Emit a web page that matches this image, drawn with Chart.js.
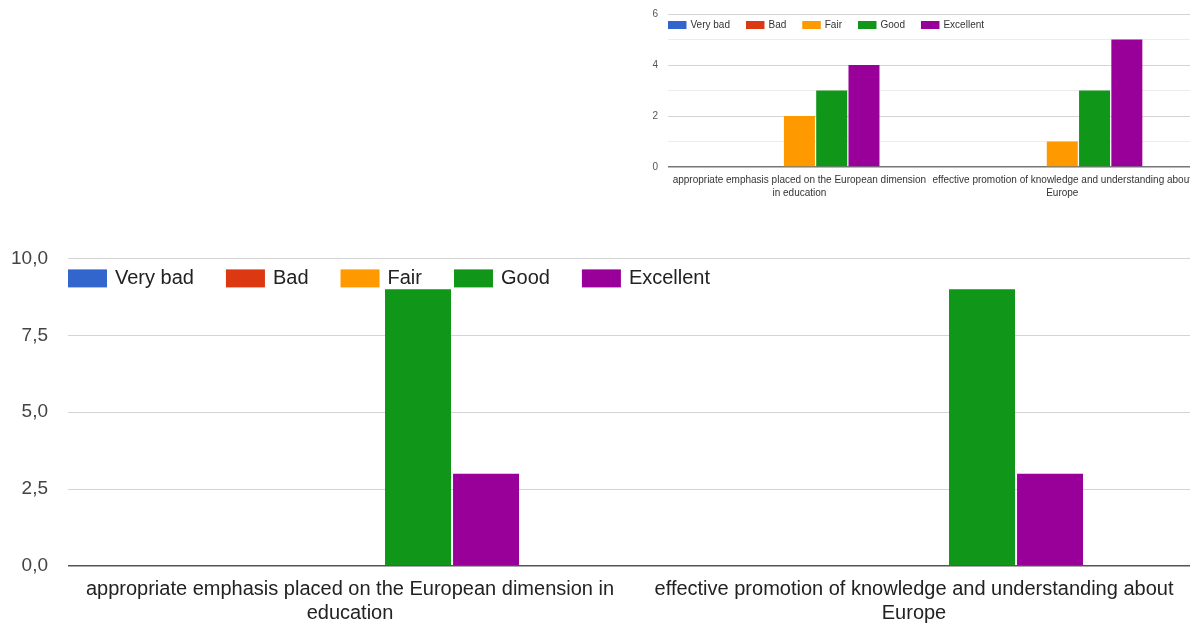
<!DOCTYPE html>
<html>
<head>
<meta charset="utf-8">
<title>European dimension ratings</title>
<script src="https://cdn.jsdelivr.net/npm/chart.js@4/dist/chart.umd.min.js"></script>
<style>
  html, body { margin: 0; padding: 0; background: #ffffff; overflow: hidden; width: 1190px; height: 625px; }
  #wrap { position: relative; width: 1190px; height: 625px; overflow: hidden; }
  #small { position: absolute; left: 640px; top: -2px; filter: blur(0.45px); }
  #main { position: absolute; left: 0px; top: 227px; }
</style>
</head>
<body>
<div id="wrap">
  <canvas id="small" width="560" height="212"></canvas>
  <canvas id="main" width="1200" height="398"></canvas>
</div>
<script>
// Rating categories (series)
const seriesNames = ['Very bad', 'Bad', 'Fair', 'Good', 'Excellent'];

// Statements being rated (wrapped for each chart size)
const smallCategories = [
  ['appropriate emphasis placed on the European dimension', 'in education'],
  ['effective promotion of knowledge and understanding about', 'Europe']
];
const mainCategories = [
  ['appropriate emphasis placed on the European dimension in', 'education'],
  ['effective promotion of knowledge and understanding about', 'Europe']
];

// Small chart counts
const smallVeryBad = [0, 0];
const smallBad = [0, 0];
const smallFair = [2, 1];
const smallGood = [3, 3];
const smallExcellent = [4, 5];

// Main chart counts
const mainVeryBad = [0, 0];
const mainBad = [0, 0];
const mainFair = [0, 0];
const mainGood = [9, 9];
const mainExcellent = [3, 3];

// Axis tick labels
const smallTickLabels = ['0', '', '2', '', '4', '', '6'];
const mainTickLabels = ['0,0', '2,5', '5,0', '7,5', '10,0'];

const palette = ['#3366cc', '#dc3912', '#ff9900', '#109618', '#990099'];
const FONT = '"Liberation Sans", Arial, sans-serif';

// Legend drawn inside the plot area, along its top edge
const insideLegend = {
  id: 'insideLegend',
  afterDraw(chart, args, opts) {
    const ctx = chart.ctx;
    const area = chart.chartArea;
    ctx.save();
    ctx.font = opts.fontSize + 'px ' + FONT;
    ctx.textBaseline = 'middle';
    ctx.textAlign = 'left';
    let x = area.left + opts.offsetX;
    const y = area.top + opts.offsetY;
    chart.data.datasets.forEach(ds => {
      ctx.fillStyle = ds.backgroundColor;
      ctx.fillRect(x, y, opts.boxW, opts.boxH);
      x += opts.boxW + opts.textGap;
      ctx.fillStyle = opts.color;
      ctx.fillText(ds.label, x, y + opts.boxH / 2 + 0.5);
      x += ctx.measureText(ds.label).width + opts.itemGap;
    });
    ctx.restore();
  }
};

function buildDatasets(seriesValues) {
  return seriesValues.map((vals, i) => ({
    label: seriesNames[i],
    data: vals,
    backgroundColor: palette[i],
    borderWidth: 0
  }));
}

function makeChart(id, cfg) {
  return new Chart(document.getElementById(id), {
    type: 'bar',
    data: {
      labels: cfg.labels,
      datasets: buildDatasets(cfg.series)
    },
    options: {
      responsive: false,
      devicePixelRatio: 1,
      animation: false,
      events: [],
      categoryPercentage: cfg.catPct,
      barPercentage: cfg.barPct,
      layout: { padding: { top: 0, right: cfg.padRight, left: 0, bottom: 0 } },
      plugins: {
        legend: { display: false },
        tooltip: { enabled: false },
        insideLegend: cfg.legend
      },
      scales: {
        x: {
          offset: true,
          grid: { display: false, drawTicks: false },
          border: { display: false },
          ticks: {
            autoSkip: false, maxRotation: 0, minRotation: 0,
            padding: cfg.xPad,
            color: cfg.xColor,
            font: { family: FONT, size: cfg.xFont, lineHeight: cfg.xLine }
          },
          afterFit(scale) { scale.height = cfg.xHeight; }
        },
        y: {
          min: 0, max: cfg.yMax,
          grid: {
            drawTicks: false,
            color: c => c.tick.value === 0 ? cfg.baseColor : (cfg.minor && c.tick.value % 2 === 1 ? '#ececec' : '#d4d4d4'),
            lineWidth: c => c.tick.value === 0 ? cfg.baseWidth : 1
          },
          border: { display: false },
          ticks: {
            stepSize: cfg.yStep,
            padding: cfg.yPad,
            color: cfg.yColor,
            font: { family: FONT, size: cfg.yFont },
            callback: (v, i) => cfg.tickLabels[i]
          },
          afterFit(scale) { scale.width = cfg.yWidth; }
        }
      }
    },
    plugins: [insideLegend]
  });
}

makeChart('small', {
  labels: smallCategories,
  series: [smallVeryBad, smallBad, smallFair, smallGood, smallExcellent],
  tickLabels: smallTickLabels,
  catPct: 0.614, barPct: 0.96,
  padRight: 4,
  xPad: 7, xFont: 10, xLine: 1.3, xHeight: 43, xColor: '#333',
  yMax: 6, yStep: 1, yPad: 10, yFont: 10, yWidth: 28, yColor: '#555',
  minor: true, baseColor: '#777', baseWidth: 1.5,
  legend: { offsetX: 0, offsetY: 7, boxW: 18.5, boxH: 8, textGap: 4, itemGap: 16, fontSize: 10, color: '#333' }
});

makeChart('main', {
  labels: mainCategories,
  series: [mainVeryBad, mainBad, mainFair, mainGood, mainExcellent],
  tickLabels: mainTickLabels,
  catPct: 0.603, barPct: 0.97,
  padRight: 4,
  xPad: 11, xFont: 20, xLine: 1.2, xHeight: 59, xColor: '#222',
  yMax: 10, yStep: 2.5, yPad: 20, yFont: 19, yWidth: 68, yColor: '#444',
  minor: false, baseColor: '#555', baseWidth: 1.5,
  legend: { offsetX: 0, offsetY: 11, boxW: 39, boxH: 18, textGap: 8, itemGap: 32, fontSize: 20, color: '#222' }
});
</script>
</body>
</html>
